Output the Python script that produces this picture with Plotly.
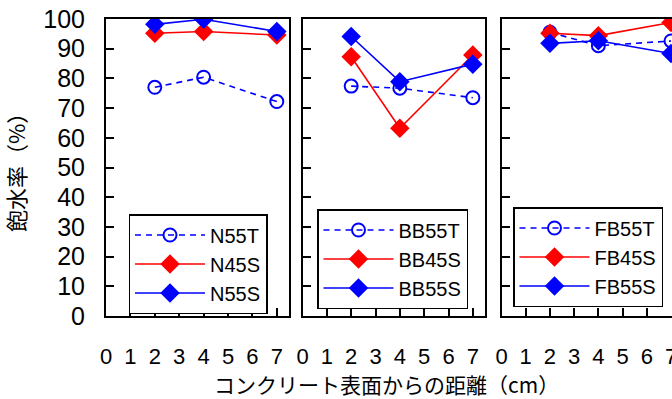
import plotly.graph_objects as go

dist = [2, 4, 7]

groups = ["N", "BB", "FB"]
t55_names = ["N55T", "BB55T", "FB55T"]
s45_names = ["N45S", "BB45S", "FB45S"]
s55_names = ["N55S", "BB55S", "FB55S"]

t55_vals = [
    [77, 80.4, 72.2],
    [77.4, 76.7, 73.5],
    [95.5, 91.0, 92.6],
]
s45_vals = [
    [95.2, 95.8, 94.6],
    [87.3, 63.2, 87.9],
    [95.2, 94.4, 98.8],
]
s55_vals = [
    [98.2, 99.9, 95.8],
    [94.1, 78.9, 84.8],
    [91.8, 92.7, 88.4],
]

xticks = [0, 1, 2, 3, 4, 5, 6, 7]
yticks = list(range(0, 101, 10))

ytitle = "飽水率（%）"
xtitle = "コンクリート表面からの距離（cm）"

W, H = 672, 399
FONT = "Liberation Sans, Arial, Noto Sans CJK JP, sans-serif"
JFONT = "Noto Sans CJK JP, Liberation Sans, sans-serif"

# panel pixel extents
px_left = [106, 302.5, 501.5]
px_right = [289, 485, 672]
x_ranges = [[0, 7.5], [0, 7.5], [0, 7.04]]
y_bottom_px, y_top_px = 316, 19

fig = go.Figure()

legend_left_px = [128.5, 317, 513]
legend_top_px = [214, 209, 207]

for i in range(3):
    xa = "x" if i == 0 else f"x{i+1}"
    ya = "y" if i == 0 else f"y{i+1}"
    lg = "legend" if i == 0 else f"legend{i+1}"
    fig.add_trace(go.Scatter(
        x=dist, y=t55_vals[i], name=t55_names[i], xaxis=xa, yaxis=ya, legend=lg,
        mode="lines+markers",
        line=dict(color="#0000ff", width=1.6, dash="6px,5px"),
        marker=dict(symbol="circle-open", size=13, color="#0000ff", line=dict(width=2, color="#0000ff")),
    ))
    fig.add_trace(go.Scatter(
        x=dist, y=s45_vals[i], name=s45_names[i], xaxis=xa, yaxis=ya, legend=lg,
        mode="lines+markers",
        line=dict(color="#ff0000", width=1.6),
        marker=dict(symbol="diamond", size=15, color="#ff0000"),
    ))
    fig.add_trace(go.Scatter(
        x=dist, y=s55_vals[i], name=s55_names[i], xaxis=xa, yaxis=ya, legend=lg,
        mode="lines+markers",
        line=dict(color="#0000ff", width=1.6),
        marker=dict(symbol="diamond", size=15, color="#0000ff"),
    ))

layout = dict(
    width=W, height=H,
    margin=dict(l=0, r=0, t=0, b=0, autoexpand=False),
    paper_bgcolor="white", plot_bgcolor="white",
    font=dict(family=FONT, size=20, color="black"),
)

ydom = [(H - y_bottom_px) / H, (H - y_top_px) / H]
for i in range(3):
    xk = "xaxis" if i == 0 else f"xaxis{i+1}"
    yk = "yaxis" if i == 0 else f"yaxis{i+1}"
    ya = "y" if i == 0 else f"y{i+1}"
    xa = "x" if i == 0 else f"x{i+1}"
    layout[xk] = dict(
        domain=[px_left[i] / W, min(px_right[i] / W, 1.0)],
        range=x_ranges[i], anchor=ya,
        tickvals=xticks, ticktext=[str(v) for v in xticks],
        ticks="inside", ticklen=8, tickwidth=1.5, tickcolor="black",
        showline=True, linecolor="black", linewidth=2, mirror=True,
        showgrid=False, zeroline=False,
        ticklabelstandoff=20, ticklabeloverflow="allow",
        tickfont=dict(size=22),
    )
    layout[yk] = dict(
        domain=ydom, range=[0, 100], anchor=xa,
        tickvals=yticks,
        ticks="inside", ticklen=8, tickwidth=1.5, tickcolor="black",
        showline=True, linecolor="black", linewidth=2, mirror=(i < 2),
        showgrid=False, zeroline=False,
        showticklabels=(i == 0),
        ticklabelstandoff=14,
        tickfont=dict(size=25),
    )
    lk = "legend" if i == 0 else f"legend{i+1}"
    layout[lk] = dict(
        x=legend_left_px[i] / W, xanchor="left",
        y=(H - legend_top_px[i]) / H, yanchor="top",
        bgcolor="white", bordercolor="black", borderwidth=1.5,
        font=dict(size=20, family=FONT),
        itemwidth=70, tracegroupgap=0,
    )

fig.update_layout(**layout)

fig.add_annotation(
    text=ytitle, x=15 / W, y=(H - 167) / H, xref="paper", yref="paper",
    textangle=-90, showarrow=False, font=dict(family=JFONT, size=22),
    xanchor="center", yanchor="middle",
)
fig.add_annotation(
    text=xtitle, x=386 / W, y=(H - 384) / H, xref="paper", yref="paper",
    showarrow=False, font=dict(family=JFONT, size=21),
    xanchor="center", yanchor="middle",
)

fig.write_html("out.html")
